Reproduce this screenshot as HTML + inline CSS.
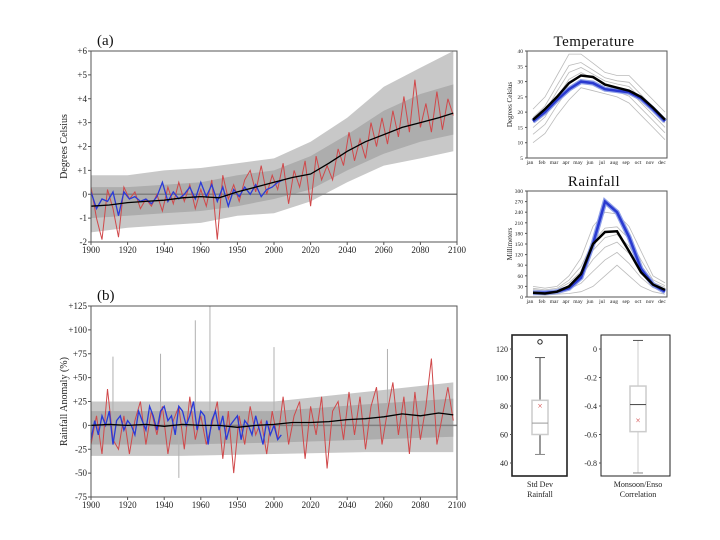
<!DOCTYPE html>
<html><head><meta charset="utf-8"><style>
body{margin:0;background:#fff;}
svg{display:block;font-family:"Liberation Serif",serif;}
</style></head><body>
<svg id="c" width="720" height="540" viewBox="0 0 720 540"></svg>
<script>
// ---- Panel (a) temperature anomaly ----
const aMeanYears=[1900,1910,1920,1930,1940,1950,1960,1970,1980,1990,2000,2010,2020,2030,2040,2050,2060,2070,2080,2090,2098];
const aMean=[-0.5,-0.45,-0.35,-0.3,-0.25,-0.15,-0.1,-0.15,0.1,0.3,0.5,0.7,0.85,1.3,1.8,2.2,2.5,2.8,3.0,3.2,3.4];
const aEnvYears=[1900,1920,1940,1960,1980,2000,2020,2040,2060,2080,2098];
const aUpper=[0.8,0.8,1.0,1.1,1.3,1.5,2.2,3.2,4.5,5.3,6.0];
const aLower=[-1.6,-1.4,-1.3,-1.2,-0.9,-0.8,-0.3,0.5,1.2,1.5,1.8];
const aInnerUpper=[0.3,0.3,0.4,0.5,0.8,1.0,1.6,2.5,3.5,4.2,4.6];
const aInnerLower=[-1.0,-0.9,-0.8,-0.7,-0.5,-0.2,0.2,1.0,1.7,2.2,2.5];
const aRed=[0.3,-1.0,-1.9,0.2,-0.6,-1.8,0.3,-0.2,0.1,-0.6,-0.2,-0.5,0.0,-0.7,0.3,-0.4,0.5,-0.3,0.4,-0.6,0.2,-0.5,0.6,-1.9,0.8,-0.2,0.4,-0.3,0.6,1.0,0.1,1.2,0.0,0.8,0.2,1.3,-0.4,1.0,0.3,1.4,-0.5,1.6,0.6,1.2,0.6,1.9,1.2,2.6,1.4,2.3,1.5,3.0,2.0,3.2,2.1,3.5,2.4,4.1,2.6,4.8,2.8,3.8,2.6,4.3,2.7,4.0,3.3];
const aBlue=[0.1,-0.6,-0.2,-0.3,0.1,-0.9,0.1,-0.2,-0.1,-0.3,-0.2,-0.4,-0.1,0.5,-0.3,0.1,-0.2,0.0,0.3,-0.2,0.5,-0.1,0.4,-0.3,0.3,-0.5,0.2,-0.1,0.3,0.0,0.4,-0.1,0.2,0.3,0.5,0.6];
const aTicks=[-2,-1,0,1,2,3,4,5,6];
const yearTicks=[1900,1920,1940,1960,1980,2000,2020,2040,2060,2080,2100];
const yearLabels=["1900","1920","1940","1960","1950","2000","2020","2040","2060","2080","2100"];
// ---- Panel (b) rainfall anomaly ----
const bMeanYears=[1900,1910,1920,1930,1940,1950,1960,1970,1980,1990,2000,2010,2020,2030,2040,2050,2060,2070,2080,2090,2098];
const bMean=[0,1,0,1,-1,1,0,0,-2,0,1,3,3,4,6,7,9,12,10,13,11];
const bEnvYears=[1900,1950,2000,2050,2098];
const bUpper=[25,25,25,35,45];
const bLower=[-32,-32,-30,-28,-28];
const bInnerUpper=[15,15,15,22,28];
const bInnerLower=[-20,-20,-18,-15,-12];
const bSpikeYears=[1912,1938,1957,1965,2000,1948,2062];
const bSpikeVals=[72,75,110,125,82,-55,80];
const bRed=[-20,10,-30,38,-15,-25,10,-30,5,25,-20,15,-10,20,-30,5,20,-25,30,-15,10,-20,0,25,-35,15,-50,10,-20,20,-10,5,-30,15,-15,30,-20,10,25,-35,20,-10,30,-45,15,25,-15,35,-10,30,-25,20,40,-20,15,45,-10,30,-30,35,-15,20,70,-20,10,40,5];
const bBlue=[-15,5,-10,10,0,15,-20,5,10,-5,5,0,-10,15,5,-5,20,10,-5,15,20,5,10,-10,20,15,0,10,25,-5,15,10,-20,5,15,-5,10,-15,0,5,10,-15,5,0,-10,10,-5,-20,5,-10,0,-15,-10];
const bTicks=[-75,-50,-25,0,25,50,75,100,125];
const bTickLabels=["-75","-50","-25","0","+25","+50","+75","+100","+125"];
// ---- monthly climatology ----
const months=["jan","feb","mar","apr","may","jun","jul","aug","sep","oct","nov","dec"];
const tBlack=[17.5,21,25,29.5,32,31.5,29,28,27,25,21.5,17.5];
const tBlue=[17,20,24,27.5,30,29.5,27.5,27,26.5,24.5,21,17];
const tUpper=[21,25,32,39,39,36,33,32,32,28,24,20];
const tLower=[10,13,19,24,28,27,26,25,23,19,15,11];
const tTicks=[5,10,15,20,25,30,35,40];
const rBlack=[12,10,15,30,65,150,184,186,130,70,35,20];
const rBlue=[12,12,15,25,55,150,270,240,170,80,35,15];
const rUpper=[30,25,30,60,110,200,240,235,200,130,60,40];
const rLower=[8,5,8,10,15,30,60,90,60,30,15,8];
const rTicks=[0,30,60,90,120,150,180,210,240,270,300];
// ---- box plots ----
const box1=[46,60,68,84,114]; const box1Mean=80; const box1Out=[125];
const box1Ticks=[40,60,80,100,120];
const box2=[-0.87,-0.58,-0.39,-0.26,0.06]; const box2Mean=-0.5;
const box2Ticks=[-0.8,-0.6,-0.4,-0.2,0];
const box2Labels=["-0.8","-0.6","-0.4","-0.2","0"];

const svg=document.getElementById('c');
const NS='http://www.w3.org/2000/svg';
function el(tag,attrs,parent,text){const e=document.createElementNS(NS,tag);for(const k in attrs)e.setAttribute(k,attrs[k]);if(text!==undefined)e.textContent=text;(parent||svg).appendChild(e);return e;}
function lin(d0,d1,r0,r1){return v=>r0+(v-d0)*(r1-r0)/(d1-d0);}
function pathD(xs,ys,fx,fy){return xs.map((x,i)=>(i?'L':'M')+fx(x).toFixed(1)+','+fy(ys[i]).toFixed(1)).join('');}
function band(xs,up,lo,fx,fy){let d=pathD(xs,up,fx,fy);for(let i=xs.length-1;i>=0;i--)d+='L'+fx(xs[i]).toFixed(1)+','+fy(lo[i]).toFixed(1);return d+'Z';}
function stepYears(start,step,n){return Array.from({length:n},(_,i)=>start+i*step);}

function tsPanel(name,top,bottom,yMin,yMax,ticks,tickLabels,ylabel,label,meanY,mean,envY,up,lo,iup,ilo,red,redStep,blue,blueStep,spY,spV){
  const g=el('g',{});
  
  
  const L=91,R=457;
  const fx=lin(1900,2100,L,R), fy=lin(yMin,yMax,bottom,top);
  const b1=el('path',{d:band(envY,up,lo,fx,fy),fill:'#c8c8c8'},g);
  
  
  const b2=el('path',{d:band(envY,iup,ilo,fx,fy),fill:'#adadad'},g);
  
  
  if(spY){spY.forEach((y,i)=>{const s=el('line',{x1:fx(y),x2:fx(y),y1:fy(0),y2:fy(spV[i]),stroke:'#b0b0b0','stroke-width':1},g);
    
    });}
  const z=el('line',{x1:L,x2:R,y1:fy(0),y2:fy(0),stroke:'#808080','stroke-width':1.5},g);
  
  
  const r=el('path',{d:pathD(stepYears(1900,redStep,red.length),red,fx,fy),fill:'none',stroke:'#d0484a','stroke-width':1},g);
  
  
  const bl=el('path',{d:pathD(stepYears(1900,blueStep,blue.length),blue,fx,fy),fill:'none',stroke:'#2a3ad8','stroke-width':1.3},g);
  
  
  const m=el('path',{d:pathD(meanY,mean,fx,fy),fill:'none',stroke:'#000','stroke-width':1.3},g);
  
  
  const f=el('rect',{x:L,y:top,width:R-L,height:bottom-top,fill:'none',stroke:'#555','stroke-width':1},g);
  
  
  ticks.forEach((t,i)=>{el('line',{x1:L-3,x2:L,y1:fy(t),y2:fy(t),stroke:'#555'},g);
    const tl=el('text',{x:L-4,y:fy(t)+3,'font-size':9,'text-anchor':'end',fill:'#222'},g,tickLabels[i]);
    
    });
  yearTicks.forEach((t,i)=>{el('line',{x1:fx(t),x2:fx(t),y1:bottom,y2:bottom+3,stroke:'#555'},g);
    const tl=el('text',{x:fx(t),y:bottom+11,'font-size':9,'text-anchor':'middle',fill:'#222'},g,yearLabels[i]);
    
    });
  const yt=el('text',{x:0,y:0,'font-size':10,'text-anchor':'middle',fill:'#222',transform:`translate(67,${(top+bottom)/2}) rotate(-90)`},g,ylabel);
  
  
  const pl=el('text',{x:97,y:top-6,'font-size':15,fill:'#111'},g,label);
  
  
}
tsPanel('temperature-timeseries-panel',51,242,-2,6,aTicks,["-2","-1","0","+1","+2","+3","+4","+5","+6"],'Degrees Celsius','(a)',aMeanYears,aMean,aEnvYears,aUpper,aLower,aInnerUpper,aInnerLower,aRed,3,aBlue,3);
tsPanel('rainfall-timeseries-panel',306,497,-75,125,bTicks,bTickLabels,'Rainfall Anomaly (%)','(b)',bMeanYears,bMean,bEnvYears,bUpper,bLower,bInnerUpper,bInnerLower,bRed,3,bBlue,2,bSpikeYears,bSpikeVals);

function monthPanel(name,title,titleY,top,bottom,yMin,yMax,ticks,ylabel,black,blue,up,lo){
  const g=el('g',{});
  
  
  const L=527,R=667;
  const fx=lin(0,11,533,665), fy=lin(yMin,yMax,bottom,top);
  const idx=months.map((_,i)=>i);
  [up,lo].forEach(arr=>{const p=el('path',{d:pathD(idx,arr,fx,fy),fill:'none',stroke:'#bbb','stroke-width':0.8},g);
    
    });
  [0.25,0.45,0.6,0.75].forEach(w=>{const mid=up.map((u,i)=>lo[i]+(u-lo[i])*w);
    const p=el('path',{d:pathD(idx,mid,fx,fy),fill:'none',stroke:'#bbb','stroke-width':0.8},g);
    
    });
  const bb=el('path',{d:pathD(idx,blue,fx,fy),fill:'none',stroke:'#8fa0e8','stroke-width':5},g);
  
  
  const b=el('path',{d:pathD(idx,blue,fx,fy),fill:'none',stroke:'#2a3ad0','stroke-width':2.5},g);
  
  
  const k=el('path',{d:pathD(idx,black,fx,fy),fill:'none',stroke:'#000','stroke-width':2.5},g);
  
  
  const f=el('rect',{x:L,y:top,width:R-L,height:bottom-top,fill:'none',stroke:'#555'},g);
  
  
  ticks.forEach(t=>{el('line',{x1:L-2,x2:L,y1:fy(t),y2:fy(t),stroke:'#555'},g);
    const tl=el('text',{x:L-4,y:fy(t)+2,'font-size':5.5,'text-anchor':'end',fill:'#222'},g,String(t));
    
    });
  months.forEach((m,i)=>{const tl=el('text',{x:fx(i)-3,y:bottom+6,'font-size':5.5,'text-anchor':'middle',fill:'#222'},g,m);
    
    });
  const yt=el('text',{x:0,y:0,'font-size':7,'text-anchor':'middle',fill:'#222',transform:`translate(512,${(top+bottom)/2}) rotate(-90)`},g,ylabel);
  
  
  const tt=el('text',{x:594,y:titleY,'font-size':15,'text-anchor':'middle',fill:'#111','letter-spacing':'0.5'},g,title);
  
  
}
monthPanel('temperature-climatology-panel','Temperature',46,51,158,5,40,tTicks,'Degrees Celsius',tBlack,tBlue,tUpper,tLower);
monthPanel('rainfall-climatology-panel','Rainfall',186,191,297,0,300,rTicks,'Millimeters',rBlack,rBlue,rUpper,rLower);

function boxPanel(name,L,R,cx,vmin,vmax,yAt,ticks,labels,stats,mean,outl,l1,l2,thick){
  const g=el('g',{});
  
  
  const fy=lin(ticks[0],ticks[ticks.length-1],yAt[0],yAt[1]);
  const col=thick?'#999':'#ccc';
  el('line',{x1:cx,x2:cx,y1:fy(stats[0]),y2:fy(stats[1]),stroke:col,'stroke-width':thick?2:1},g);
  el('line',{x1:cx,x2:cx,y1:fy(stats[3]),y2:fy(stats[4]),stroke:col,'stroke-width':thick?2:1},g);
  el('line',{x1:cx-5,x2:cx+5,y1:fy(stats[0]),y2:fy(stats[0]),stroke:'#888'},g);
  el('line',{x1:cx-5,x2:cx+5,y1:fy(stats[4]),y2:fy(stats[4]),stroke:'#555'},g);
  const bx=el('rect',{x:cx-8,y:fy(stats[3]),width:16,height:fy(stats[1])-fy(stats[3]),fill:'none',stroke:'#ccc','stroke-width':1.5},g);
  
  
  const md=el('line',{x1:cx-8,x2:cx+8,y1:fy(stats[2]),y2:fy(stats[2]),stroke:thick?'#999':'#444'},g);
  
  
  const mn=el('text',{x:cx,y:fy(mean)+3,'font-size':9,'text-anchor':'middle',fill:'#d04040'},g,'×');
  
  
  (outl||[]).forEach(o=>{const c=el('circle',{cx:cx,cy:fy(o),r:2.2,fill:'none',stroke:'#222'},g);
    
    });
  const f=el('rect',{x:L,y:335,width:R-L,height:141,fill:'none',stroke:'#222','stroke-width':thick?1.6:1},g);
  
  
  ticks.forEach((t,i)=>{el('line',{x1:L-2,x2:L,y1:fy(t),y2:fy(t),stroke:'#555'},g);
    const tl=el('text',{x:L-4,y:fy(t)+3,'font-size':8,'text-anchor':'end',fill:'#222'},g,labels[i]);
    
    });
  const a=el('text',{x:cx,y:487,'font-size':8,'text-anchor':'middle',fill:'#222'},g,l1);
  
  
  const b=el('text',{x:cx,y:497,'font-size':8,'text-anchor':'middle',fill:'#222'},g,l2);
  
  
}
boxPanel('std-dev-boxplot',512,567,540,0,0,[463,349],box1Ticks,box1Ticks.map(String),box1,box1Mean,box1Out,'Std Dev','Rainfall',true);
boxPanel('monsoon-enso-boxplot',601,670,638,0,0,[463,349],box2Ticks,box2Labels,box2,box2Mean,[],'Monsoon/Enso','Correlation',false);
</script>
</body></html>
